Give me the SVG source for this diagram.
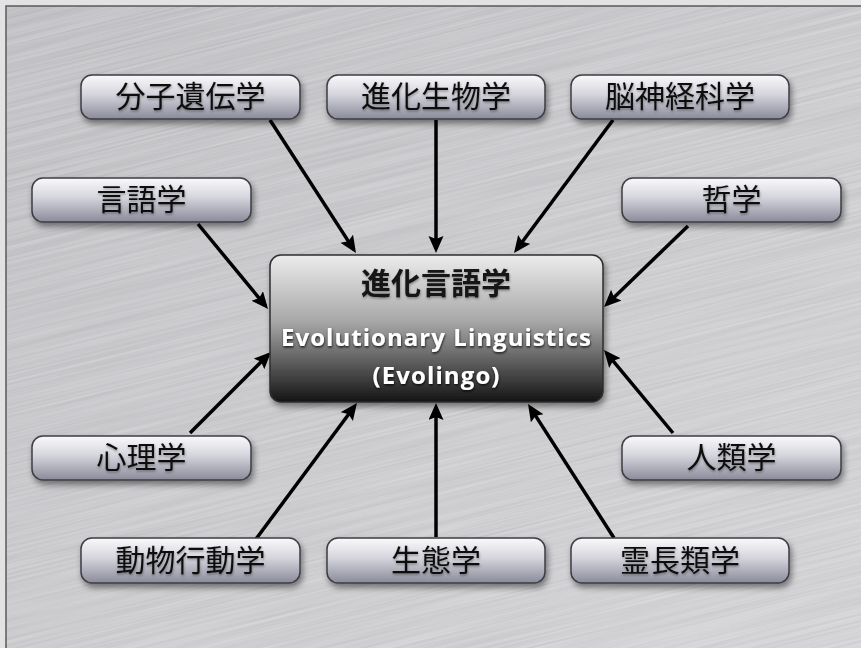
<svg xmlns="http://www.w3.org/2000/svg" width="861" height="648" viewBox="0 0 861 648">
<defs>
<style>
.node rect{fill:url(#nodeGrad);stroke:#3c3c44;stroke-width:1.5;filter:url(#shadow)}
.node text{font-family:"Noto Sans CJK JP","Noto Sans",sans-serif;font-size:30px;fill:#111;text-anchor:middle;filter:url(#tshadow)}
.conn line{stroke:#000;stroke-width:3.5;marker-end:url(#arrow)}
.title{font-family:"Noto Sans CJK JP","Noto Sans",sans-serif;font-size:30px;font-weight:bold;fill:#141414;text-anchor:middle;filter:url(#tshadow)}
.en{font-family:"Open Sans",Lato,sans-serif;font-size:24px;font-weight:bold;fill:#fff;text-anchor:middle;filter:url(#wshadow)}
</style>
<linearGradient id="nodeGrad" x1="0" y1="0" x2="0" y2="1">
<stop offset="0" stop-color="#fafafc"/>
<stop offset="0.45" stop-color="#d4d4dc"/>
<stop offset="1" stop-color="#8a8a9a"/>
</linearGradient>
<linearGradient id="centerGrad" x1="0" y1="0" x2="0" y2="1">
<stop offset="0" stop-color="#ececec"/>
<stop offset="0.45" stop-color="#a8a8a8"/>
<stop offset="0.8" stop-color="#4a4a4a"/>
<stop offset="1" stop-color="#141414"/>
</linearGradient>
<linearGradient id="bgGrad" x1="0" y1="0" x2="1" y2="1">
<stop offset="0" stop-color="#c0c0c4"/>
<stop offset="0.5" stop-color="#cbcbce"/>
<stop offset="1" stop-color="#d4d4d7"/>
</linearGradient>
<filter id="brush" x="0" y="0" width="1" height="1">
<feTurbulence type="fractalNoise" baseFrequency="0.004 0.45" numOctaves="2" seed="3"/>
<feColorMatrix type="matrix" values="0 0 0 0 1  0 0 0 0 1  0 0 0 0 1  0.9 0 0 0 -0.3"/>
</filter>
<filter id="brush2" x="0" y="0" width="1" height="1">
<feTurbulence type="fractalNoise" baseFrequency="0.006 0.5" numOctaves="2" seed="8"/>
<feColorMatrix type="matrix" values="0 0 0 0 0.3  0 0 0 0 0.3  0 0 0 0 0.32  0.8 0 0 0 -0.3"/>
</filter>
<filter id="shadow" x="-10%" y="-20%" width="125%" height="160%">
<feDropShadow dx="2" dy="4" stdDeviation="3" flood-color="#000" flood-opacity="0.45"/>
</filter>
<filter id="tshadow" x="-10%" y="-20%" width="120%" height="150%">
<feDropShadow dx="0.5" dy="1.5" stdDeviation="1" flood-color="#000" flood-opacity="0.35"/>
</filter>
<filter id="wshadow" x="-10%" y="-20%" width="120%" height="150%">
<feDropShadow dx="0.5" dy="1.5" stdDeviation="1.2" flood-color="#000" flood-opacity="0.8"/>
</filter>
<marker id="arrow" markerUnits="userSpaceOnUse" markerWidth="20" markerHeight="16" refX="13" refY="7.5" orient="auto">
<path d="M0,0 L17,7.5 L0,15 L3,7.5 z" fill="#000"/>
</marker>
<clipPath id="frameClip"><rect x="6" y="6" width="860" height="650"/></clipPath>
</defs>

<rect x="0" y="0" width="861" height="648" fill="#e2e2e2"/>
<g clip-path="url(#frameClip)">
<rect x="6" y="6" width="860" height="650" fill="url(#bgGrad)"/>
<g transform="rotate(-14 430 324)">
<rect x="-200" y="-200" width="1260" height="1050" filter="url(#brush)" opacity="0.5"/>
<rect x="-200" y="-200" width="1260" height="1050" filter="url(#brush2)" opacity="0.4"/>
</g>
</g>
<rect x="6" y="6" width="870" height="660" fill="none" stroke="#5a5a5a" stroke-width="1.5"/>

<g id="connectors" class="conn">
<line x1="270" y1="120" x2="353.8" y2="249.6"/>
<line x1="436" y1="120" x2="436" y2="249"/>
<line x1="613" y1="120" x2="516.4" y2="249.8"/>
<line x1="198" y1="224" x2="265.5" y2="305.9"/>
<line x1="688" y1="226" x2="606.9" y2="304.2"/>
<line x1="190" y1="433" x2="268.2" y2="354.8"/>
<line x1="673" y1="433" x2="606.6" y2="353.1"/>
<line x1="256" y1="539" x2="354.6" y2="406.2"/>
<line x1="436" y1="537" x2="436" y2="407"/>
<line x1="614" y1="538" x2="530.2" y2="407.4"/>
</g>

<g id="center">
<rect x="270" y="255" width="333" height="147" rx="11" fill="url(#centerGrad)" stroke="#2e2e2e" stroke-width="1.5" filter="url(#shadow)"/>
<text class="title" x="436" y="294">進化言語学</text>
<text class="en" x="436" y="346" textLength="310" lengthAdjust="spacing">Evolutionary Linguistics</text>
<text class="en" x="436" y="384" textLength="127" lengthAdjust="spacing">(Evolingo)</text>
</g>

<g id="n-bunshi" class="node"><rect x="81" y="75" width="219" height="44" rx="11"/><text x="190.5" y="107">分子遺伝学</text></g>
<g id="n-shinka" class="node"><rect x="327" y="75" width="218" height="44" rx="11"/><text x="436" y="107">進化生物学</text></g>
<g id="n-noushinkei" class="node"><rect x="571" y="75" width="218" height="44" rx="11"/><text x="680" y="107">脳神経科学</text></g>
<g id="n-gengo" class="node"><rect x="32" y="178" width="219" height="44" rx="11"/><text x="141.5" y="210">言語学</text></g>
<g id="n-tetsu" class="node"><rect x="622" y="178" width="219" height="44" rx="11"/><text x="731.5" y="210">哲学</text></g>
<g id="n-shinri" class="node"><rect x="32" y="436" width="219" height="44" rx="11"/><text x="141.5" y="468">心理学</text></g>
<g id="n-jinrui" class="node"><rect x="622" y="436" width="219" height="44" rx="11"/><text x="731.5" y="468">人類学</text></g>
<g id="n-doubutsu" class="node"><rect x="81" y="538" width="219" height="45" rx="11"/><text x="190.5" y="571">動物行動学</text></g>
<g id="n-seitai" class="node"><rect x="327" y="538" width="218" height="45" rx="11"/><text x="436" y="571">生態学</text></g>
<g id="n-reichou" class="node"><rect x="571" y="538" width="218" height="45" rx="11"/><text x="680" y="571">霊長類学</text></g>
</svg>
